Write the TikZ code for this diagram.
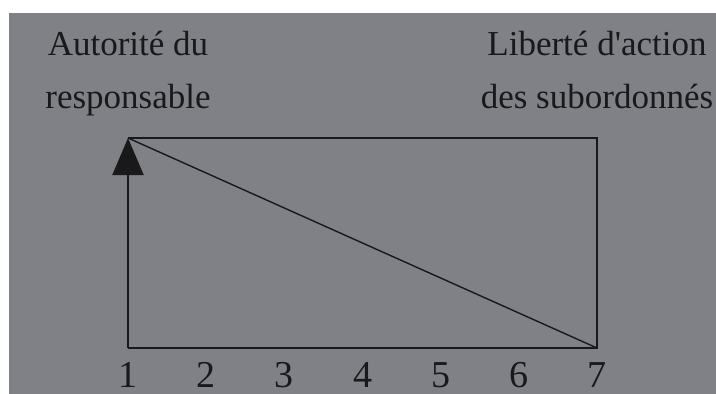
\documentclass[tikz,border=0pt]{standalone}
\usepackage{fontspec}
\setmainfont{Liberation Serif}
\usetikzlibrary{arrows.meta}
\definecolor{bggray}{RGB}{128,129,134}
\definecolor{ink}{RGB}{25,25,28}
\tikzset{
  lbl/.style={anchor=base, inner sep=0pt, text=ink, font=\fontsize{35}{40}\selectfont},
  num/.style={anchor=base, inner sep=0pt, text=ink, font=\fontsize{38}{42}\selectfont},
  frame/.style={draw=ink, line width=2pt},
  diag/.style={draw=ink, line width=1.4pt},
}
\begin{document}
\begin{tikzpicture}[x=1pt,y=-1pt]
\useasboundingbox (0,0) rectangle (716,394);
\fill[white] (0,0) rectangle (716,394);
\fill[bggray] (9,13) rectangle (716,394);
\coordinate (bl) at (128,348);
\coordinate (tl) at (128,138);
\coordinate (tr) at (597,138);
\coordinate (br) at (597,348);
\draw[frame] (tl) -- (tr) -- (br) -- (bl);
\draw[frame, -{Triangle[length=37pt,width=31pt]}] (bl) -- (tl);
\draw[diag] (tl) -- (br);
\node[lbl] (a1) at (128,55) {Autorité du};
\node[lbl] (a2) at (128,108) {responsable};
\node[lbl] (b1) at (597,55) {Liberté d\textquotesingle action};
\node[lbl] (b2) at (597,108) {des subordonnés};
\foreach \i in {1,...,7}{
  \node[num] (n\i) at ({128+(\i-1)*78.17},387) {\i};
}
\end{tikzpicture}
\end{document}
